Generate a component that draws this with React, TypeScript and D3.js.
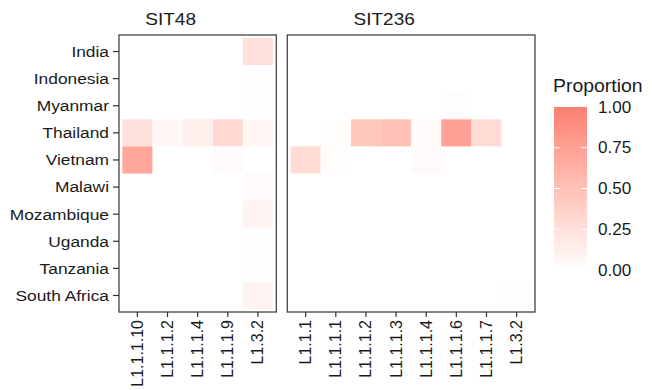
import React from 'react'
import * as d3 from 'd3'

const countries = ['India', 'Indonesia', 'Myanmar', 'Thailand', 'Vietnam', 'Malawi', 'Mozambique', 'Uganda', 'Tanzania', 'South Africa']

const sit48Lineages = ['L1.1.1.10', 'L1.1.1.2', 'L1.1.1.4', 'L1.1.1.9', 'L1.3.2']
const sit236Lineages = ['L1.1.1', 'L1.1.1.1', 'L1.1.1.2', 'L1.1.1.3', 'L1.1.1.4', 'L1.1.1.6', 'L1.1.1.7', 'L1.3.2']

// rows follow `countries`, columns follow the lineage list (null = no tile)
const sit48Values: (number | null)[][] = [
  [null, null, null, null, 0.25],
  [null, null, null, null, 0.01],
  [null, null, null, null, 0.01],
  [0.25, 0.06, 0.12, 0.3, 0.08],
  [0.7, null, null, 0.03, 0],
  [null, null, null, null, 0.04],
  [null, null, null, null, 0.09],
  [null, null, null, null, 0.01],
  [null, null, null, null, 0.01],
  [null, null, null, null, 0.09],
]

const sit236Values: (number | null)[][] = [
  [null, null, null, null, null, null, null, null],
  [null, null, null, null, null, null, null, null],
  [null, null, null, null, null, 0.02, null, null],
  [null, 0.02, 0.45, 0.5, 0.03, 0.74, 0.28, null],
  [0.28, 0.02, null, null, 0.04, null, null, null],
  [null, null, null, null, null, null, null, null],
  [null, null, null, null, null, null, null, null],
  [null, null, null, null, null, null, null, null],
  [null, null, null, null, null, null, null, null],
  [null, null, null, null, null, null, null, 0.02],
]

const legendTicks = [0, 0.25, 0.5, 0.75, 1]

const font = "'Liberation Sans', Arial, sans-serif"
// the reference text is a bit wider than plain Arial
const sx = 1.12

export default function App() {
  const width = 652
  const height = 390
  const left = 119
  const right = 535
  const top = 35
  const bottom = 312
  const gap = 11
  const expand = 0.11

  const unit = (right - left - gap) / (sit48Lineages.length + sit236Lineages.length + 4 * expand)
  const panels = [
    { name: 'SIT48', lineages: sit48Lineages, values: sit48Values, x0: left },
    { name: 'SIT236', lineages: sit236Lineages, values: sit236Values, x0: 0 },
  ]
  const w1 = (sit48Lineages.length + 2 * expand) * unit
  panels[1].x0 = left + w1 + gap

  const y = d3.scaleBand<string>().domain(countries).range([top, bottom])
    .paddingInner(0).paddingOuter(expand)

  const color = d3.scaleLinear<string>().domain([0, 1]).range(['#ffffff', '#fa8072'])
    .interpolate(d3.interpolateLab)

  const legX = 554
  const legW = 33
  const legY = d3.scaleLinear().domain([0, 1]).range([270, 107])

  return (
    <svg width={width} height={height} style={{ position: 'absolute', left: 0, top: 0, fontFamily: font }}>
      <defs>
        <linearGradient id="grad" x1="0" y1="1" x2="0" y2="0">
          {d3.range(0, 1.01, 0.1).map(t => (
            <stop key={t} offset={t} stopColor={color(t)} />
          ))}
        </linearGradient>
      </defs>
      <rect width={width} height={height} fill="#fff" />
      {panels.map(p => {
        const pw = (p.lineages.length + 2 * expand) * unit
        const x = d3.scaleBand<string>().domain(p.lineages).range([p.x0, p.x0 + pw])
          .paddingInner(0).paddingOuter(expand)
        return (
          <g key={p.name}>
            <text transform={`translate(${p.x0 + pw / 2 - 27},25) scale(${sx},1)`}
              fontSize={17} textAnchor="middle" fill="#1a1a1a">{p.name}</text>
            {p.values.map((row, i) => row.map((v, j) => v === null ? null : (
              <rect key={i + '-' + j}
                x={x(p.lineages[j])} y={y(countries[i])}
                width={x.bandwidth()} height={y.bandwidth()}
                fill={color(v)} />
            )))}
            <rect x={p.x0} y={top} width={pw} height={bottom - top} fill="none" stroke="#444" strokeWidth={1.3} />
            {p.lineages.map(l => {
              const cx = x(l)! + x.bandwidth() / 2
              return (
                <g key={l}>
                  <line x1={cx} x2={cx} y1={bottom} y2={bottom + 5} stroke="#333" strokeWidth={1.2} />
                  <text transform={`translate(${cx + 5.5},${bottom + 8}) rotate(-90)`}
                    textAnchor="end" fontSize={16} fill="#1a1a1a">{l}</text>
                </g>
              )
            })}
          </g>
        )
      })}
      {countries.map(c => {
        const cy = y(c)! + y.bandwidth() / 2
        return (
          <g key={c}>
            <line x1={left - 6} x2={left} y1={cy} y2={cy} stroke="#333" strokeWidth={1.2} />
            <text transform={`translate(${left - 10},${cy}) scale(${sx},1)`} dy="0.35em"
              textAnchor="end" fontSize={15.5} fill="#1a1a1a">{c}</text>
          </g>
        )
      })}
      <text transform={`translate(553,92) scale(1.05,1)`} fontSize={18.5} fill="#1a1a1a">Proportion</text>
      <rect x={legX} y={legY(1)} width={legW} height={legY(0) - legY(1)} fill="url(#grad)" />
      {legendTicks.map(t => (
        <g key={t}>
          {t > 0 && t < 1 && (
            <>
              <line x1={legX} x2={legX + 6} y1={legY(t)} y2={legY(t)} stroke="#fff" strokeWidth={1} />
              <line x1={legX + legW - 6} x2={legX + legW} y1={legY(t)} y2={legY(t)} stroke="#fff" strokeWidth={1} />
            </>
          )}
          <text transform={`translate(598,${legY(t)}) scale(1.07,1)`} dy="0.35em" fontSize={16} fill="#1a1a1a">{t.toFixed(2)}</text>
        </g>
      ))}
    </svg>
  )
}
